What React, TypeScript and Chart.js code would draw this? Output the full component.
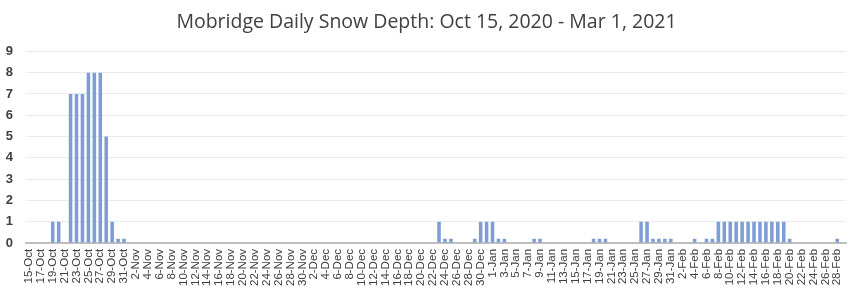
import React, { useEffect, useRef } from "react";
import { Chart, registerables } from "chart.js";

Chart.register(...registerables);

const TITLE = "Mobridge Daily Snow Depth: Oct 15, 2020 - Mar 1, 2021";

// Months covered and their day ranges
const MONTHS = ["Oct", "Nov", "Dec", "Jan", "Feb", "Mar"];
const FIRST_DAY = [15, 1, 1, 1, 1, 1];
const LAST_DAY = [31, 30, 31, 31, 28, 1];

// Snow depth (inches); 0.2 = trace
const OCT = [0, 0, 0, 0, 1, 1, 0, 7, 7, 7, 8, 8, 8, 5, 1, 0.2, 0.2];
const NOV = [0, 0, 0, 0, 0, 0, 0, 0, 0, 0, 0, 0, 0, 0, 0, 0, 0, 0, 0, 0, 0, 0, 0, 0, 0, 0, 0, 0, 0, 0];
const DEC = [0, 0, 0, 0, 0, 0, 0, 0, 0, 0, 0, 0, 0, 0, 0, 0, 0, 0, 0, 0, 0, 0, 1, 0.2, 0.2, 0, 0, 0, 0.2, 1, 1];
const JAN = [1, 0.2, 0.2, 0, 0, 0, 0, 0.2, 0.2, 0, 0, 0, 0, 0, 0, 0, 0, 0.2, 0.2, 0.2, 0, 0, 0, 0, 0, 1, 1, 0.2, 0.2, 0.2, 0.2];
const FEB = [0, 0, 0, 0.2, 0, 0.2, 0.2, 1, 1, 1, 1, 1, 1, 1, 1, 1, 1, 1, 1, 0.2, 0, 0, 0, 0, 0, 0, 0, 0.2];
const MAR = [0];

const Y_TICKS = [0, 1, 2, 3, 4, 5, 6, 7, 8, 9];

const CATEGORIES: string[] = [];
MONTHS.forEach((m, i) => {
  for (let d = FIRST_DAY[i]; d <= LAST_DAY[i]; d++) CATEGORIES.push(`${d}-${m}`);
});
const VALUES = [...OCT, ...NOV, ...DEC, ...JAN, ...FEB, ...MAR];

export default function App() {
  const ref = useRef<HTMLCanvasElement | null>(null);
  useEffect(() => {
    document.body.style.margin = "0";
    const ctx = ref.current!;
    const chart = new Chart(ctx, {
      type: "bar",
      data: {
        labels: CATEGORIES,
        datasets: [
          {
            data: VALUES,
            backgroundColor: "#7F9ED6",
            barPercentage: 0.6,
            categoryPercentage: 1,
          },
        ],
      },
      options: {
        animation: false,
        responsive: false,
        layout: { padding: { left: 0, right: 10, top: 8, bottom: 4 } },
        plugins: {
          legend: { display: false },
          tooltip: { enabled: false },
          title: {
            display: true,
            text: TITLE,
            color: "#404040",
            font: { family: "'Open Sans'", size: 19.5, weight: "normal" },
            padding: { top: 3, bottom: 17 },
          },
        },
        scales: {
          x: {
            grid: { display: false, drawTicks: false },
            border: { display: true, color: "#BFBFBF", width: 2 },
            ticks: {
              autoSkip: false,
              maxRotation: 90,
              minRotation: 90,
              padding: 6,
              color: "#404040",
              font: { family: "'Liberation Sans'", size: 11.5 },
              callback: (_v: any, i: number) => (i % 2 === 0 ? CATEGORIES[i] : ""),
            },
          },
          y: {
            min: 0,
            max: 9,
            afterBuildTicks: (axis: any) => {
              axis.ticks = Y_TICKS.map((v) => ({ value: v }));
            },
            afterFit: (axis: any) => {
              axis.width = 26;
            },
            grid: { color: "#EBEBEB", drawTicks: false },
            border: { display: false },
            ticks: {
              padding: 13,
              color: "#404040",
              font: { family: "'Liberation Sans'", size: 13, weight: "bold" },
            },
          },
        },
      },
    });
    return () => chart.destroy();
  }, []);
  return <canvas ref={ref} width={863} height={296} style={{ display: "block" }} />;
}
